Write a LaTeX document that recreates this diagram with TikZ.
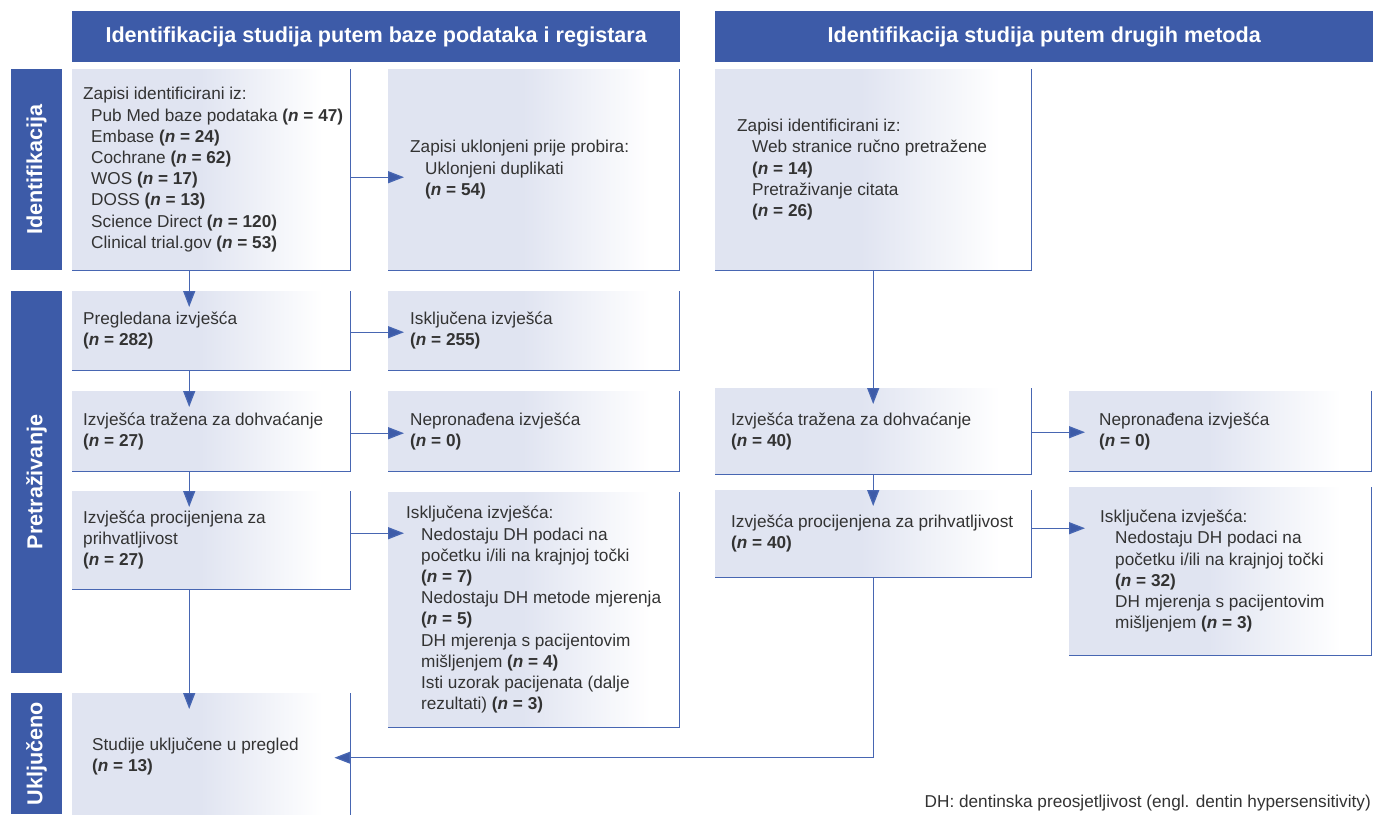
\documentclass[tikz,border=0pt]{standalone}
\usepackage{fontspec}
\setmainfont{Liberation Sans}
\usetikzlibrary{arrows.meta}

\definecolor{hdrblue}{HTML}{3D5BA8}
\definecolor{lineblue}{HTML}{4766B2}
\definecolor{boxbg}{HTML}{E0E4F1}
\definecolor{txtgray}{HTML}{333333}
\pgfdeclarehorizontalshading{boxfade}{100bp}{color(0bp)=(boxbg); color(25bp)=(boxbg); color(48bp)=(boxbg); color(70bp)=(white); color(100bp)=(white)}

\newcommand{\nn}[1]{\textbf{(\textit{n} = #1)}}
\newcommand{\ind}{\hspace*{15pt}}

\begin{document}
\begin{tikzpicture}[
        x=1pt, y=-1pt,
        header/.style={fill=hdrblue, text=white, anchor=north west, inner sep=0pt, font=\fontsize{21.6}{26}\selectfont\bfseries},
        sidebar/.style={fill=hdrblue, text=white, rotate=90, inner sep=0pt, minimum height=51pt, font=\fontsize{21.6}{26}\selectfont\bfseries},
        box/.style={shading=boxfade, anchor=north west, inner sep=0pt},
        txt/.style={anchor=west, align=left, inner sep=0pt, text=txtgray, font=\fontsize{17.2}{21.2}\selectfont},
        edge/.style={draw=lineblue, line width=1.3pt},
        arrow/.style={draw=lineblue, line width=1.3pt, shorten >=-16pt, -{Triangle[length=16pt, width=12pt, fill=hdrblue]}}
    ]
        \useasboundingbox (0,0) rectangle (1373,814);

        % Headers and phase bars
        \node[header, minimum width=608pt, minimum height=51pt] (hdr_db) at (72,11) {Identifikacija studija putem baze podataka i registara};
        \node[header, minimum width=658pt, minimum height=51pt] (hdr_ot) at (715,11) {Identifikacija studija putem drugih metoda};
        \node[sidebar, minimum width=201pt] (side_id) at (36.5,169.5) {Identifikacija};
        \node[sidebar, minimum width=382pt] (side_scr) at (36.5,482) {Pretraživanje};
        \node[sidebar, minimum width=121pt] (side_inc) at (36.5,753.5) {Uključeno};

        % Databases and registers
        \node[box, minimum width=278pt, minimum height=201pt] (db_ident) at (72,69) {};
        \node[box, minimum width=291pt, minimum height=201pt] (db_dupl) at (388,69) {};
        \node[box, minimum width=278pt, minimum height=79pt] (db_screen) at (72,291) {};
        \node[box, minimum width=291pt, minimum height=79pt] (db_excl) at (388,291) {};
        \node[box, minimum width=278pt, minimum height=80pt] (db_retr) at (72,391) {};
        \node[box, minimum width=291pt, minimum height=80pt] (db_nretr) at (388,391) {};
        \node[box, minimum width=278pt, minimum height=98pt] (db_elig) at (72,491) {};
        \node[box, minimum width=291pt, minimum height=235pt] (db_exel) at (388,492) {};
        \node[box, minimum width=278pt, minimum height=123pt] (incl) at (72,693) {};

        % Other methods
        \node[box, minimum width=316pt, minimum height=201pt] (ot_ident) at (715,69) {};
        \node[box, minimum width=316pt, minimum height=86pt] (ot_retr) at (715,388) {};
        \node[box, minimum width=302pt, minimum height=80pt] (ot_nretr) at (1069,391) {};
        \node[box, minimum width=316pt, minimum height=87pt] (ot_elig) at (715,490) {};
        \node[box, minimum width=302pt, minimum height=168pt] (ot_exel) at (1069,487) {};

        \foreach \b in {db_ident,db_dupl,db_screen,db_excl,db_retr,db_nretr,db_elig,db_exel,incl,ot_ident,ot_retr,ot_nretr,ot_elig,ot_exel}
            \draw[edge] (\b.north east) |- (\b.south west);

        % Box texts
        \node[txt] (db_ident_t) at ([xshift=11pt]db_ident.west) {Zapisi identificirani iz:\\
            \hspace*{8pt}Pub Med baze podataka \nn{47}\\
            \hspace*{8pt}Embase \nn{24}\\
            \hspace*{8pt}Cochrane \nn{62}\\
            \hspace*{8pt}WOS \nn{17}\\
            \hspace*{8pt}DOSS \nn{13}\\
            \hspace*{8pt}Science Direct \nn{120}\\
            \hspace*{8pt}Clinical trial.gov \nn{53}};
        \node[txt] (db_dupl_t) at ([xshift=22pt]db_dupl.west) {Zapisi uklonjeni prije probira:\\ \ind Uklonjeni duplikati\\ \ind\nn{54}};
        \node[txt] (db_screen_t) at ([xshift=11pt]db_screen.west) {Pregledana izvješća\\ \nn{282}};
        \node[txt] (db_excl_t) at ([xshift=22pt]db_excl.west) {Isključena izvješća\\ \nn{255}};
        \node[txt] (db_retr_t) at ([xshift=11pt]db_retr.west) {Izvješća tražena za dohvaćanje\\ \nn{27}};
        \node[txt] (db_nretr_t) at ([xshift=22pt]db_nretr.west) {Nepronađena izvješća\\ \nn{0}};
        \node[txt] (db_elig_t) at ([xshift=11pt]db_elig.west) {Izvješća procijenjena za\\ prihvatljivost\\ \nn{27}};
        \node[txt] (db_exel_t) at ([xshift=18pt]db_exel.west) {Isključena izvješća:\\
            \ind Nedostaju DH podaci na\\ \ind početku i/ili na krajnjoj točki\\ \ind\nn{7}\\
            \ind Nedostaju DH metode mjerenja\\ \ind\nn{5}\\
            \ind DH mjerenja s pacijentovim\\ \ind mišljenjem \nn{4}\\
            \ind Isti uzorak pacijenata (dalje\\ \ind rezultati) \nn{3}};
        \node[txt] (incl_t) at ([xshift=20pt,yshift=-2pt]incl.west) {Studije uključene u pregled\\ \nn{13}};
        \node[txt] (ot_ident_t) at ([xshift=22pt]ot_ident.west) {Zapisi identificirani iz:\\
            \ind Web stranice ručno pretražene\\ \ind\nn{14}\\
            \ind Pretraživanje citata\\ \ind\nn{26}};
        \node[txt] (ot_retr_t) at ([xshift=16pt]ot_retr.west) {Izvješća tražena za dohvaćanje\\ \nn{40}};
        \node[txt] (ot_nretr_t) at ([xshift=30pt]ot_nretr.west) {Nepronađena izvješća\\ \nn{0}};
        \node[txt] (ot_elig_t) at ([xshift=16pt]ot_elig.west) {Izvješća procijenjena za prihvatljivost\\ \nn{40}};
        \node[txt] (ot_exel_t) at ([xshift=31pt]ot_exel.west) {Isključena izvješća:\\
            \ind Nedostaju DH podaci na\\ \ind početku i/ili na krajnjoj točki\\ \ind\nn{32}\\
            \ind DH mjerenja s pacijentovim\\ \ind mišljenjem \nn{3}};

        % Arrows
        \draw[arrow] ([xshift=-22pt]db_ident.south) -- ([xshift=-22pt]db_screen.north);
        \draw[arrow] ([xshift=-22pt]db_screen.south) -- ([xshift=-22pt]db_retr.north);
        \draw[arrow] ([xshift=-22pt]db_retr.south) -- ([xshift=-22pt]db_elig.north);
        \draw[arrow] ([xshift=-22pt]db_elig.south) -- ([xshift=-22pt]incl.north);
        \draw[arrow] ([yshift=-7.5pt]db_ident.east) -- ([yshift=-7.5pt]db_ident.east -| db_dupl.west);
        \draw[arrow] ([yshift=-1.5pt]db_screen.east) -- ([yshift=-1.5pt]db_screen.east -| db_excl.west);
        \draw[arrow] ([yshift=-2pt]db_retr.east) -- ([yshift=-2pt]db_retr.east -| db_nretr.west);
        \draw[arrow] ([yshift=7pt]db_elig.east) -- ([yshift=7pt]db_elig.east -| db_exel.west);

        \draw[arrow] (ot_ident.south) -- (ot_retr.north);
        \draw[arrow] (ot_retr.south) -- (ot_elig.north);
        \draw[arrow] ([yshift=-1pt]ot_retr.east) -- ([yshift=-1pt]ot_retr.east -| ot_nretr.west);
        \draw[arrow] ([yshift=5.5pt]ot_elig.east) -- ([yshift=5.5pt]ot_elig.east -| ot_exel.west);
        \draw[arrow] (ot_elig.south) |- ([yshift=-3pt]incl.east);

        % Footnote
        \node[anchor=south east, inner sep=0pt, text=txtgray, font=\fontsize{17.2}{21.2}\selectfont] (note) at (1371,811) {DH: dentinska preosjetljivost (engl. dentin hypersensitivity)};
    \end{tikzpicture}
\end{document}
